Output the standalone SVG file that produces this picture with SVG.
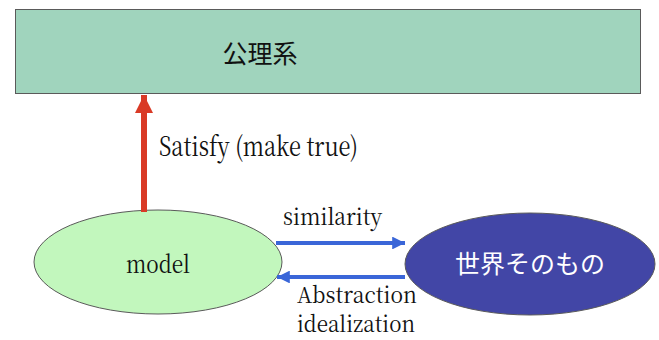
<svg xmlns="http://www.w3.org/2000/svg" width="659" height="340" viewBox="0 0 659 340">
  <style>
    .node { stroke: #5a5a5a; stroke-width: 1; }
  </style>
  <defs>
    <marker id="redHead" viewBox="0 0 10 10" refX="10" refY="5" markerWidth="3" markerHeight="3" orient="auto" markerUnits="strokeWidth">
      <path d="M0,0 L10,5 L0,10 Z" fill="#d93a26"/>
    </marker>
    <marker id="blueHead" viewBox="0 0 10 10" refX="10" refY="5" markerWidth="3.5" markerHeight="3.2" orient="auto" markerUnits="strokeWidth">
      <path d="M0,0 L10,5 L0,10 Z" fill="#3a66d8"/>
    </marker>
  </defs>

  <g id="axioms">
    <rect class="node" x="15.5" y="9.5" width="625" height="84" fill="#a0d4bd"/>
    <text font-family="Noto Sans CJK JP, sans-serif" x="260" y="63" font-size="25" text-anchor="middle" fill="#111">公理系</text>
  </g>

  <g id="model">
    <ellipse class="node" cx="158" cy="262" rx="124" ry="52" fill="#c2f7bd"/>
    <text font-family="Noto Serif CJK JP, DejaVu Serif" x="126" y="273" font-size="24" textLength="64" lengthAdjust="spacingAndGlyphs" fill="#111">model</text>
  </g>

  <g id="world">
    <ellipse class="node" cx="530" cy="264" rx="125" ry="51" fill="#4246a6"/>
    <text font-family="Noto Sans CJK JP, sans-serif" x="530" y="273" font-size="25" text-anchor="middle" fill="#ffffff">世界そのもの</text>
  </g>

  <g id="connectors">
    <line x1="144" y1="212" x2="144" y2="95" stroke="#d93a26" stroke-width="6" marker-end="url(#redHead)"/>
    <line x1="276" y1="243" x2="405" y2="243" stroke="#3a66d8" stroke-width="4" marker-end="url(#blueHead)"/>
    <line x1="405" y1="277" x2="277" y2="277" stroke="#3a66d8" stroke-width="4" marker-end="url(#blueHead)"/>
    <g font-family="Noto Serif CJK JP, DejaVu Serif" fill="#111">
      <text x="159" y="156" font-size="27" textLength="199" lengthAdjust="spacingAndGlyphs">Satisfy (make true)</text>
      <text x="283" y="225" font-size="23" textLength="99" lengthAdjust="spacingAndGlyphs">similarity</text>
      <text x="297" y="303" font-size="22" textLength="120" lengthAdjust="spacingAndGlyphs">Abstraction</text>
      <text x="297" y="332" font-size="22" textLength="118" lengthAdjust="spacingAndGlyphs">idealization</text>
    </g>
  </g>
</svg>
